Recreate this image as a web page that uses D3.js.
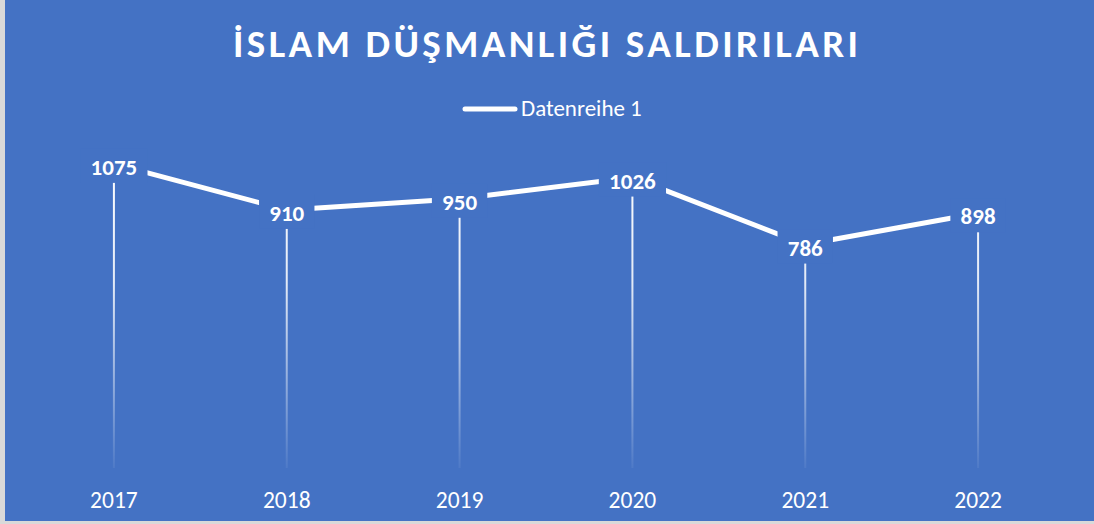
<!DOCTYPE html>
<html>
    <head>
        <title>İslam düşmanlığı saldırıları</title>
        <style>
            html, body { margin: 0; padding: 0; background: #d9d9d9; }
            svg { display: block; }
        </style>
        <script src="https://d3js.org/d3.v7.min.js"></script>
    </head>
    <body>
        <div id="chart"></div>
        <script type="text/javascript">
            var years = ["2017", "2018", "2019", "2020", "2021", "2022"];
            var values = [1075, 910, 950, 1026, 786, 898];
            var seriesName = "Datenreihe 1";
            var title = "İSLAM DÜŞMANLIĞI SALDIRILARI";

            var w = 1094, h = 524;
            var blue = "#4472c4";
            var font = "Carlito, 'Open Sans', Lato, sans-serif";

            var svg = d3.select("#chart").append("svg")
                .attr("width", w)
                .attr("height", h);

            svg.append("rect")
                .attr("x", 5).attr("y", 0)
                .attr("width", w - 5).attr("height", 521)
                .attr("fill", blue);

            var x = d3.scaleBand().domain(years).range([27.5, 1064.5]).padding(0);
            var y = d3.scaleLinear().domain([0, 1200]).range([464, 129]);
            var cx = d => x(d) + x.bandwidth() / 2;

            // title
            svg.append("text")
                .attr("x", 233).attr("y", 57)
                .attr("font-family", font)
                .attr("font-weight", "bold")
                .attr("font-size", 39)
                .attr("fill", "white")
                .attr("textLength", 625)
                .attr("lengthAdjust", "spacing")
                .text(title);

            // legend
            svg.append("line")
                .attr("x1", 465).attr("x2", 515)
                .attr("y1", 109).attr("y2", 109)
                .attr("stroke", "white")
                .attr("stroke-width", 5)
                .attr("stroke-linecap", "round");
            svg.append("text")
                .attr("x", 521).attr("y", 116)
                .attr("font-family", font)
                .attr("font-size", 23)
                .attr("fill", "white")
                .text(seriesName);

            // drop line gradient
            var defs = svg.append("defs");
            var grad = defs.append("linearGradient")
                .attr("id", "fade")
                .attr("gradientUnits", "userSpaceOnUse")
                .attr("x1", 0).attr("x2", 0)
                .attr("y1", y(1100)).attr("y2", 470);
            grad.append("stop").attr("offset", 0).attr("stop-color", "white").attr("stop-opacity", 1);
            grad.append("stop").attr("offset", 0.4).attr("stop-color", "white").attr("stop-opacity", 0.85);
            grad.append("stop").attr("offset", 1).attr("stop-color", "white").attr("stop-opacity", 0.05);

            var data = years.map((d, i) => ({ year: d, value: values[i] }));

            svg.selectAll(".drop")
                .data(data)
                .enter()
                .append("line")
                .attr("class", "drop")
                .attr("x1", d => cx(d.year))
                .attr("x2", d => cx(d.year))
                .attr("y1", d => y(d.value))
                .attr("y2", 468)
                .attr("stroke", "url(#fade)")
                .attr("stroke-width", 2);

            var line = d3.line()
                .x(d => cx(d.year))
                .y(d => y(d.value));

            svg.append("path")
                .datum(data)
                .attr("d", line)
                .attr("fill", "none")
                .attr("stroke", "white")
                .attr("stroke-width", 5)
                .attr("stroke-linejoin", "round");

            // data labels with blue boxes that hide the line
            var lab = svg.selectAll(".lab")
                .data(data)
                .enter()
                .append("g")
                .attr("class", "lab")
                .attr("transform", d => "translate(" + cx(d.year) + "," + y(d.value) + ")");
            lab.append("rect")
                .attr("x", d => -(String(d.value).length * 5.9 + 10))
                .attr("y", -15)
                .attr("width", d => 2 * (String(d.value).length * 5.9 + 10))
                .attr("height", 34)
                .attr("fill", blue);
            lab.append("text")
                .attr("y", 11)
                .attr("text-anchor", "middle")
                .attr("font-family", font)
                .attr("font-weight", "bold")
                .attr("font-size", 23)
                .attr("fill", "white")
                .text(d => d.value);

            // x axis labels
            svg.selectAll(".xl")
                .data(years)
                .enter()
                .append("text")
                .attr("class", "xl")
                .attr("x", d => cx(d))
                .attr("y", 508)
                .attr("text-anchor", "middle")
                .attr("font-family", font)
                .attr("font-size", 23.5)
                .attr("fill", "white")
                .text(d => d);
        </script>
    </body>
</html>
